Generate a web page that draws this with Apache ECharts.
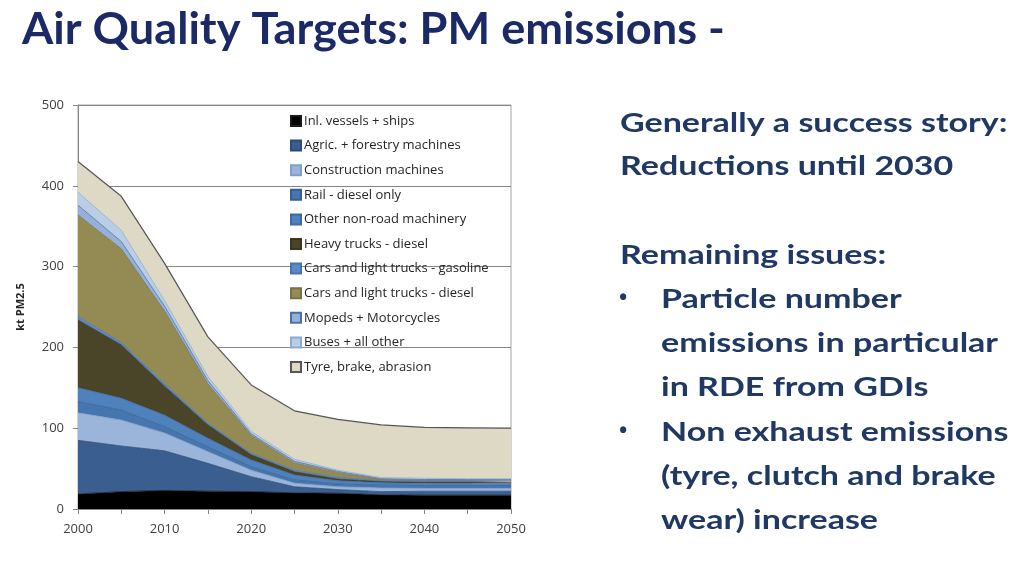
<!DOCTYPE html>
<html>
<head>
<meta charset="utf-8">
<script src="https://cdn.jsdelivr.net/npm/echarts@6/dist/echarts.min.js"></script>
<style>
html,body{margin:0;padding:0;background:#fff;}
#c{width:1024px;height:569px;}
</style>
</head>
<body>
<div id="c"></div>
<script>
const years = ['2000','2005','2010','2015','2020','2025','2030','2035','2040','2045','2050'];
const yTicks = [0,100,200,300,400,500];
const inlVessels   = [18.5, 21.5, 23, 22, 21.5, 20, 19.5, 17.5, 17, 17, 17];
const agricForest  = [66.5, 56.5, 49, 34.5, 18.5, 7.5, 4.5, 4, 5, 5, 5];
const construction = [34, 32, 22, 14.5, 8, 4.5, 3.5, 4.5, 3.5, 3.5, 3.5];
const railDiesel   = [14, 12.5, 8, 6, 4.5, 4, 3.5, 3.5, 3.5, 3.5, 3.5];
const otherNonRoad = [17, 14.5, 14, 10.5, 8, 6, 4, 3, 3, 3, 3];
const heavyTrucks  = [84, 66, 36, 16.5, 6.5, 4, 2, 1.5, 1, 1, 1];
const carsGasoline = [4, 3, 3, 2, 2, 2, 2, 1, 1.5, 1.5, 1.5];
const carsDiesel   = [126, 116, 90, 49, 22, 9, 6, 1.5, 1, 1, 1];
const mopeds       = [12, 9, 6, 4, 2, 2, 1.5, 1, 1, 1, 1];
const buses        = [16, 14, 7, 5, 3, 2.5, 1.5, 1.5, 1.5, 1, 1];
const tyreBrake    = [38, 42, 46, 49, 57.5, 60, 63, 65, 63, 63, 62.5];

const seriesNames = ['Inl. vessels + ships','Agric. + forestry machines','Construction machines','Rail - diesel only','Other non-road machinery','Heavy trucks - diesel','Cars and light trucks - gasoline','Cars and light trucks - diesel','Mopeds + Motorcycles','Buses + all other','Tyre, brake, abrasion'];
const seriesData = [inlVessels, agricForest, construction, railDiesel, otherNonRoad, heavyTrucks, carsGasoline, carsDiesel, mopeds, buses, tyreBrake];
const fills  = ['#000000','#395e8f','#9ab5d9','#4775ae','#4f81bd','#4a4429','#5b8ac8','#948a54','#95b1da','#b9cde5','#ddd9c4'];
const lines  = ['#1a1a1a','#2c4a75','#7fa0cc','#365e92','#3d6aa3','#3b3620','#4874ae','#7a7145','#4c6fa6','#8faccf','#555555'];

const series = seriesNames.map((n,i)=>({
  name:n, type:'line', stack:'total', data:seriesData[i], symbol:'none', smooth:false,
  lineStyle:{width:i===10?1.2:0.8, color:lines[i]},
  itemStyle:{color:fills[i], borderColor:lines[i], borderWidth:1},
  areaStyle:{color:fills[i], opacity:1},
  emphasis:{disabled:true}
}));

const chart = echarts.init(document.getElementById('c'));
const txtColor = '#1f3864';
const rightLines = [
  {t:'Generally a success story:', x:620, y:123},
  {t:'Reductions until 2030', x:620, y:166},
  {t:'Remaining issues:', x:620, y:255},
  {t:'Particle number', x:661, y:299},
  {t:'emissions in particular', x:661, y:343},
  {t:'in RDE from GDIs', x:661, y:387},
  {t:'Non exhaust emissions', x:661, y:432},
  {t:'(tyre, clutch and brake', x:661, y:476},
  {t:'wear) increase', x:661, y:520}
];
const bullets = [{x:619, y:299},{x:619, y:432}];
chart.setOption({
  animation:false,
  backgroundColor:'#ffffff',
  grid:{left:78, right:513, top:105, bottom:60, show:true, borderColor:'#a6a6a6', borderWidth:1, backgroundColor:'transparent'},
  legend:{
    orient:'vertical', left:285, top:109.5, itemWidth:10, itemHeight:10, itemGap:11.6,
    icon:'rect', selectedMode:false,
    textStyle:{fontFamily:'Open Sans, Lato, sans-serif', fontSize:13, color:'#262626', padding:[0,0,0,-2]},
    data:seriesNames
  },
  xAxis:{
    type:'category', data:years, boundaryGap:false,
    axisLine:{lineStyle:{color:'#868686'}},
    axisTick:{show:true, interval:0, length:5, lineStyle:{color:'#868686'}},
    axisLabel:{interval:1, color:'#404040', fontSize:13, fontFamily:'Open Sans, Lato, sans-serif', margin:14},
    splitLine:{show:false}
  },
  yAxis:{
    type:'value', min:yTicks[0], max:yTicks[yTicks.length-1], interval:100,
    name:'kt PM2.5', nameLocation:'middle', nameGap:52, nameRotate:90,
    nameTextStyle:{fontFamily:'Open Sans, Lato, sans-serif', fontSize:11, fontWeight:'bold', color:'#262626'},
    axisLine:{show:true, lineStyle:{color:'#868686'}},
    axisTick:{show:true, length:5, lineStyle:{color:'#868686'}},
    axisLabel:{color:'#404040', fontSize:13, fontFamily:'Open Sans, Lato, sans-serif', margin:14},
    splitLine:{show:true, lineStyle:{color:'#868686', width:1}}
  },
  graphic:[
    {type:'text', x:22, y:9, scaleX:1.05, style:{text:'Air Quality Targets: PM emissions -', fill:'#1b2a66', font:'bold 43px Lato, "Open Sans", sans-serif'}},
  ].concat(rightLines.map(l=>({
    type:'text', x:l.x, y:l.y, scaleX:1.26, style:{text:l.t, fill:txtColor, font:'bold 27px Lato, "Open Sans", sans-serif', textVerticalAlign:'middle'}
  }))).concat(bullets.map(b=>({
    type:'text', x:b.x, y:b.y, style:{text:'•', fill:txtColor, font:'bold 22px "Open Sans", sans-serif', textVerticalAlign:'middle'}
  }))),
  series:series
});
</script>
</body>
</html>
